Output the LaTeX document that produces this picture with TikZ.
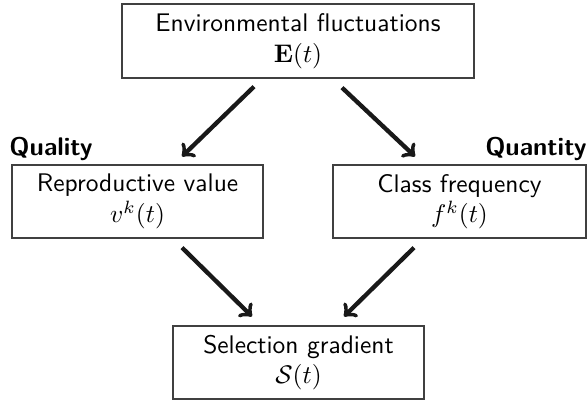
\documentclass[tikz,border=0pt]{standalone}
\usepackage{amsmath}

\tikzset{
  box/.style={draw=black!75, line width=0.5pt, align=center, font=\sffamily,
    minimum height=1.007cm, inner sep=2pt},
  flow/.style={->, line width=1.7pt, color=black!90},
  tag/.style={font=\sffamily\bfseries, inner sep=0pt}
}

\begin{document}
\begin{tikzpicture}
  \useasboundingbox (0, 0) rectangle (8.114, -5.534);

  \node[box, minimum width=4.858cm, minimum height=1.021cm] (env) at (4.112, -0.566)
    {Environmental fluctuations\\ $\mathbf{E}(t)$};
  \node[box, minimum width=3.464cm] (rep) at (1.898, -2.781)
    {Reproductive value\\ $v^k(t)$};
  \node[box, minimum width=3.491cm] (cls) at (6.341, -2.781)
    {Class frequency\\ $f^k(t)$};
  \node[box, minimum width=3.464cm] (sel) at (4.119, -5.003)
    {Selection gradient\\ $\mathcal{S}(t)$};

  \node[tag, anchor=base west] (quality) at (0.124, -2.139) {Quality};
  \node[tag, anchor=base east] (quantity) at (8.100, -2.139) {Quantity};

  \draw[flow] ([shift={(-0.607, -0.110)}]env.south) -- ([shift={(0.614, 0.110)}]rep.north);
  \draw[flow] ([shift={(0.607, -0.124)}]env.south) -- ([shift={(-0.614, 0.110)}]cls.north);
  \draw[flow] ([shift={(0.614, -0.124)}]rep.south) -- ([shift={(-0.642, 0.124)}]sel.north);
  \draw[flow] ([shift={(-0.628, -0.124)}]cls.south) -- ([shift={(0.628, 0.124)}]sel.north);
\end{tikzpicture}
\end{document}
